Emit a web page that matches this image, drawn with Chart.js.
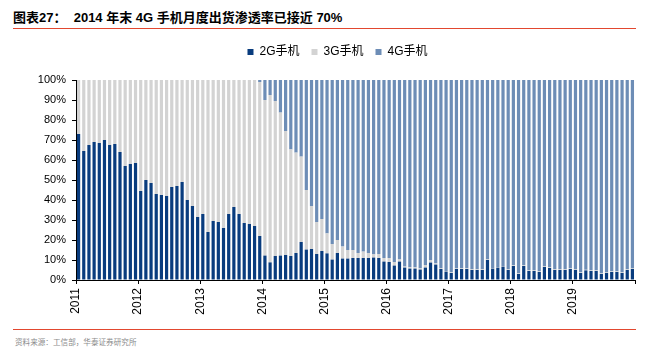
<!DOCTYPE html>
<html lang="zh">
<head>
<meta charset="UTF-8">
<title>chart</title>
<script src="https://cdn.jsdelivr.net/npm/chart.js"></script>
<style>
  body { margin:0; width:648px; height:363px; background:#fff; position:relative; overflow:hidden;
         font-family:"Liberation Sans","Noto Sans CJK SC",sans-serif; }
  #title { position:absolute; left:13px; top:10px; font-size:13px; font-weight:bold; color:#000; white-space:pre; line-height:16px; }
  .rule { position:absolute; left:13px; width:623px; height:1px; background:#e2472f; }
  #source { position:absolute; left:15px; top:337px; font-size:7.6px; color:#8c8c8c; font-family:"Noto Sans CJK SC",sans-serif; line-height:10px; }
  #wrap { position:absolute; left:0; top:36px; width:648px; height:292px; }
</style>
</head>
<body>
<div id="title">图表27：  2014 年末 4G 手机月度出货渗透率已接近 70%</div>
<div class="rule" style="top:28px"></div>
<div id="wrap"><canvas id="myChart"></canvas></div>
<div class="rule" style="top:329px"></div>
<div id="source">资料来源：工信部，华泰证券研究所</div>
<script>
// years on the axis, one bar per month
const years = ['2011','2012','2013','2014','2015','2016','2017','2018','2019'];
const labels = [];
for (const y of years) for (let m = 1; m <= 12; m++) labels.push(y + '-' + m);

// shares in %, month by month
const share2G = [
  73, 64.5, 67.5, 69, 68.5, 70, 67.5, 68, 64, 57, 58, 58.5,
  44.5, 50, 48.5, 43, 42.5, 42, 46.5, 47, 49, 40, 37, 31.5,
  33, 24, 29.5, 29, 26, 33, 36.5, 33, 28.5, 28, 27, 22,
  12.2, 8.8, 12, 12.2, 12.5, 12, 13.5, 19, 15.2, 15.5, 13, 14.5,
  13.3, 10.2, 13.5, 10.7, 10.7, 11, 11, 11, 11, 11.2, 11, 9.2,
  9, 7.2, 9.2, 6.2, 5.7, 5.7, 5.2, 6.2, 8.7, 7.7, 5.5, 4.2,
  3.5, 5.5, 5.5, 5.5, 5, 5, 5, 10, 5.7, 6.2, 6.7, 5,
  7, 3, 7, 4.5, 4.5, 4, 6.5, 6, 5, 5, 5, 5.5,
  5, 3.5, 4.8, 4.5, 4.5, 3, 3.5, 4, 4, 3.5, 5, 5.5
];
const share3G = [
  27, 35.5, 32.5, 31, 31.5, 30, 32.5, 32, 36, 43, 42, 41.5,
  55.5, 50, 51.5, 57, 57.5, 58, 53.5, 53, 51, 60, 63, 68.5,
  67, 76, 70.5, 71, 74, 67, 63.5, 67, 71.5, 72, 73, 77,
  77.8, 83.7, 77.5, 71.5, 62, 53.3, 50.2, 42.7, 29.8, 21.5, 16, 16,
  10, 7.8, 6.5, 6, 4.3, 4, 2.5, 3.2, 2.5, 1.6, 2, 1.8,
  2, 1.8, 1.1, 0.5, 0.6, 0.6, 0.6, 1.3, 1.3, 0.6, 0.3, 0.3,
  0.3, 0.3, 0.3, 0.3, 0.3, 0.3, 0.3, 0.3, 0.3, 0.3, 0.3, 0.3,
  0.3, 0.3, 0.3, 0.3, 0.3, 0.3, 0.3, 0.3, 0.3, 0.3, 0.3, 0.3,
  0.3, 0.3, 0.3, 0.3, 0.3, 0.3, 0.3, 0.3, 0.3, 0.3, 0.3, 0.3
];
const share4G = [
  0, 0, 0, 0, 0, 0, 0, 0, 0, 0, 0, 0,
  0, 0, 0, 0, 0, 0, 0, 0, 0, 0, 0, 0,
  0, 0, 0, 0, 0, 0, 0, 0, 0, 0, 0, 1,
  10, 7.5, 10.5, 16.3, 25.5, 34.7, 36.3, 38.3, 55, 63, 71, 69.5,
  76.7, 82, 80, 83.3, 85, 85, 86.5, 85.8, 86.5, 87.2, 87, 89,
  89, 91, 89.7, 93.3, 93.7, 93.7, 94.2, 92.5, 90, 91.7, 94.2, 95.5,
  96.2, 94.2, 94.2, 94.2, 94.7, 94.7, 94.7, 89.7, 94, 93.5, 93, 94.7,
  92.7, 96.7, 92.7, 95.2, 95.2, 95.7, 93.2, 93.7, 94.7, 94.7, 94.7, 94.2,
  94.7, 96.2, 94.9, 95.2, 95.2, 96.7, 96.2, 95.7, 95.7, 96.2, 94.7, 94.2
];

const tickFont = { family: '"Liberation Sans", "Noto Sans CJK SC"', size: 11 };

// legend sits a bit off centre in the original, and leaves a gap above the plot
const legendNudge = {
  id: 'legendNudge',
  afterInit(chart) {
    const lg = chart.legend;
    const fit = lg.fit;
    lg.fit = function () { fit.call(this); this.height = 44; };
  },
  afterLayout(chart) {
    const lg = chart.legend;
    lg.left += 20; lg.right += 20;
    lg.top -= 2; lg.bottom -= 2;
  }
};

const data = {
  labels: labels,
  datasets: [
    { label: '2G手机', data: share2G, backgroundColor: '#093c7e' },
    { label: '3G手机', data: share3G, backgroundColor: '#d3d3d3' },
    { label: '4G手机', data: share4G, backgroundColor: '#6d8db6' }
  ]
};

const config = {
  type: 'bar',
  data: data,
  options: {
    responsive: true,
    maintainAspectRatio: false,
    animation: false,
    events: [],
    datasets: { bar: { barPercentage: 0.62, categoryPercentage: 1.0, borderWidth: 0 } },
    layout: { padding: { left: 0, right: 13, top: 0, bottom: 0 } },
    plugins: {
      tooltip: { enabled: false },
      legend: {
        position: 'top',
        labels: {
          boxWidth: 6, boxHeight: 6, padding: 12, color: '#000',
          font: { family: '"Liberation Sans", "Noto Sans CJK SC"', size: 12 }
        }
      }
    },
    scales: {
      x: { stacked: true, display: false, offset: true },
      x2: {
        type: 'linear', position: 'bottom', min: 0, max: 108, offset: false,
        afterFit(scale) { scale.height = 48; scale.paddingLeft = 0; scale.paddingRight = 0; },
        border: { display: true, color: '#000', width: 1 },
        grid: { offset: false, drawOnChartArea: false, drawTicks: true, tickLength: 4, color: '#000' },
        ticks: {
          stepSize: 12, minRotation: 90, maxRotation: 90, padding: 4, color: '#000',
          font: { family: '"Liberation Sans", "Noto Sans CJK SC"', size: 12 },
          callback: v => (v < 108 ? years[v / 12] : '')
        }
      },
      y: {
        stacked: true, min: 0, max: 100,
        afterFit(scale) { scale.width = 76; },
        border: { display: true, color: '#000', width: 1 },
        grid: { drawOnChartArea: false, drawTicks: true, tickLength: 4, color: '#000' },
        ticks: { stepSize: 10, padding: 6, color: '#000', font: tickFont, callback: v => v + '%' }
      }
    }
  },
  plugins: [legendNudge]
};

const ctx = document.getElementById('myChart').getContext('2d');
const myChart = new Chart(ctx, config);
</script>
</body>
</html>
